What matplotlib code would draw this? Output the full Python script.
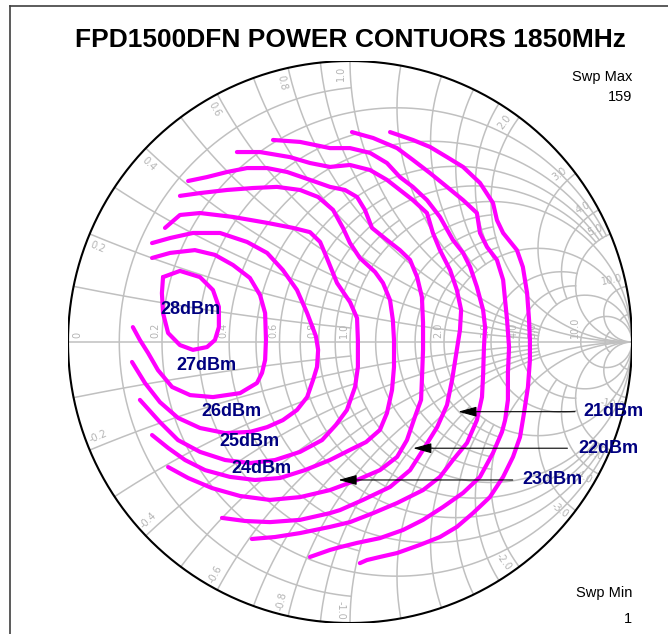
import numpy as np
import matplotlib.pyplot as plt

W, H = 668, 634
INF = 1e6

title = "FPD1500DFN POWER CONTUORS 1850MHz"

# Smith chart grid: resistance circles and how far (|x|) they run
r_grid = [0.1, 0.2, 0.3, 0.4, 0.5, 0.6, 0.7, 0.8, 0.9, 1.0,
          1.2, 1.4, 1.6, 1.8, 2.0, 3.0, 4.0, 5.0, 10.0, 20.0, 50.0]
r_reach = [1, 5, 1, 5, 1, 5, 1, 5, 1, INF,
           2, 2, 2, 2, INF, 5, 5, INF, INF, 10, 10]
# reactance arcs and how far (r) they run
x_grid = r_grid
x_reach = [1, 5, 1, 5, 1, 5, 1, 5, 1, INF,
           2, 2, 2, 2, INF, 5, 5, INF, INF, 10, 10]

r_labels = [0, 0.2, 0.4, 0.6, 0.8, 1.0, 2.0, 3.0, 4.0, 5.0, 10.0]
x_labels = [0.2, 0.4, 0.6, 0.8, 1.0, 2.0, 3.0, 4.0, 5.0, 10.0]

# power contours as reflection coefficient (re, im)
c28_re = [-0.663, -0.603, -0.532, -0.486, -0.465, -0.465, -0.479, -0.507,
          -0.557, -0.603, -0.645, -0.663, -0.667, -0.663]
c28_im = [0.231, 0.253, 0.231, 0.185, 0.125, 0.053, 0.007, -0.018,
          -0.028, -0.011, 0.032, 0.103, 0.174, 0.231]

c1_re = [-0.702, -0.638, -0.550, -0.479, -0.415, -0.355, -0.319, -0.301, -0.298,
         -0.301, -0.312, -0.330, -0.390, -0.486, -0.567, -0.631, -0.681, -0.716,
         -0.745, -0.770]
c1_im = [0.299, 0.317, 0.327, 0.310, 0.274, 0.228, 0.167, 0.103, 0.007,
         -0.064, -0.110, -0.146, -0.182, -0.196, -0.189, -0.160, -0.100, -0.039,
         0.007, 0.053]

c2_re = [-0.702, -0.638, -0.557, -0.461, -0.365, -0.294, -0.238, -0.188, -0.152,
         -0.121, -0.113, -0.117, -0.131, -0.152, -0.188, -0.238, -0.294, -0.355,
         -0.443, -0.532, -0.610, -0.674, -0.727, -0.773]
c2_im = [0.352, 0.370, 0.388, 0.388, 0.356, 0.317, 0.256, 0.185, 0.103,
         0.021, -0.028, -0.089, -0.135, -0.196, -0.242, -0.278, -0.303, -0.320,
         -0.324, -0.306, -0.270, -0.214, -0.146, -0.071]

c3_re = [-0.656, -0.603, -0.532, -0.415, -0.294, -0.202, -0.142, -0.106, -0.082,
         -0.046, 0.000, 0.025, 0.028, 0.028, 0.018, -0.011, -0.050, -0.099,
         -0.177, -0.266, -0.355, -0.443, -0.532, -0.610, -0.674, -0.745]
c3_im = [0.406, 0.452, 0.459, 0.445, 0.424, 0.406, 0.391, 0.356, 0.299,
         0.210, 0.142, 0.085, 0.007, -0.089, -0.160, -0.242, -0.295, -0.349,
         -0.391, -0.420, -0.431, -0.420, -0.391, -0.349, -0.285, -0.206]

c4_re = [-0.603, -0.532, -0.436, -0.344, -0.259, -0.177, -0.113, -0.060, -0.025,
         0.000, 0.035, 0.089, 0.117, 0.142, 0.152, 0.156, 0.156, 0.149, 0.131,
         0.106, 0.057, 0.000, -0.071, -0.160, -0.248, -0.337, -0.426, -0.514,
         -0.585, -0.645, -0.702]
c4_im = [0.520, 0.530, 0.541, 0.548, 0.552, 0.541, 0.516, 0.470, 0.406,
         0.352, 0.299, 0.249, 0.210, 0.149, 0.078, 0.007, -0.089, -0.171, -0.253,
         -0.313, -0.356, -0.384, -0.420, -0.456, -0.484, -0.491, -0.480, -0.456,
         -0.420, -0.377, -0.331]

c5_re = [-0.574, -0.507, -0.436, -0.365, -0.294, -0.223, -0.142, -0.071, -0.018,
         0.025, 0.053, 0.078, 0.131, 0.177, 0.213, 0.238, 0.255, 0.259, 0.259,
         0.255, 0.252, 0.230, 0.202, 0.167, 0.106, 0.025, -0.071, -0.177, -0.284,
         -0.390, -0.489, -0.574, -0.645]
c5_im = [0.573, 0.587, 0.605, 0.619, 0.619, 0.605, 0.577, 0.552, 0.541,
         0.516, 0.470, 0.406, 0.363, 0.327, 0.292, 0.231, 0.160, 0.068, -0.028,
         -0.135, -0.206, -0.267, -0.349, -0.409, -0.456, -0.491, -0.527, -0.552,
         -0.562, -0.548, -0.520, -0.484, -0.445]

c6_re = [-0.401, -0.319, -0.213, -0.142, -0.071, 0.000, 0.071, 0.131, 0.177,
         0.223, 0.273, 0.294, 0.319, 0.355, 0.379, 0.394, 0.390, 0.376, 0.362,
         0.344, 0.309, 0.259, 0.213, 0.142, 0.046, -0.035, -0.071, -0.177, -0.284,
         -0.372, -0.454]
c6_im = [0.676, 0.676, 0.658, 0.637, 0.623, 0.630, 0.612, 0.577, 0.541,
         0.505, 0.459, 0.388, 0.327, 0.256, 0.185, 0.114, 0.043, -0.046, -0.135,
         -0.224, -0.303, -0.384, -0.456, -0.516, -0.562, -0.598, -0.609, -0.633,
         -0.641, -0.637, -0.626]

c7_re = [-0.273, -0.177, -0.071, 0.000, 0.071, 0.131, 0.177, 0.223, 0.273,
         0.319, 0.365, 0.401, 0.426, 0.450, 0.472, 0.479, 0.475, 0.472, 0.468,
         0.450, 0.415, 0.365, 0.319, 0.259, 0.167, 0.082, 0.000, -0.071, -0.177,
         -0.266, -0.348]
c7_im = [0.719, 0.712, 0.690, 0.690, 0.673, 0.637, 0.587, 0.552, 0.505,
         0.445, 0.363, 0.317, 0.267, 0.196, 0.114, 0.053, -0.018, -0.117, -0.196,
         -0.278, -0.359, -0.420, -0.480, -0.527, -0.573, -0.609, -0.641, -0.658,
         -0.680, -0.694, -0.701]

c8_re = [0.007, 0.082, 0.167, 0.223, 0.284, 0.344, 0.401, 0.450, 0.461,
         0.486, 0.521, 0.543, 0.550, 0.557, 0.564, 0.560, 0.560, 0.550, 0.539,
         0.507, 0.461, 0.401, 0.330, 0.259, 0.188, 0.106, 0.025, -0.035, -0.071,
         -0.142]
c8_im = [0.747, 0.726, 0.690, 0.648, 0.601, 0.552, 0.505, 0.459, 0.388,
         0.338, 0.292, 0.221, 0.149, 0.078, -0.018, -0.110, -0.206, -0.278, -0.320,
         -0.395, -0.480, -0.537, -0.587, -0.633, -0.669, -0.698, -0.715, -0.730,
         -0.740, -0.765]

c9_re = [0.142, 0.223, 0.284, 0.344, 0.401, 0.461, 0.507, 0.521, 0.543,
         0.592, 0.613, 0.628, 0.635, 0.638, 0.638, 0.631, 0.617, 0.603, 0.578,
         0.543, 0.496, 0.436, 0.379, 0.319, 0.248, 0.167, 0.106, 0.060, 0.035]
c9_im = [0.747, 0.719, 0.694, 0.658, 0.623, 0.566, 0.495, 0.434, 0.388,
         0.327, 0.267, 0.174, 0.078, 0.007, -0.064, -0.160, -0.253, -0.338, -0.409,
         -0.480, -0.552, -0.609, -0.658, -0.694, -0.722, -0.751, -0.765, -0.776,
         -0.787]

contours = [(c28_re, c28_im), (c1_re, c1_im), (c2_re, c2_im), (c3_re, c3_im),
            (c4_re, c4_im), (c5_re, c5_im), (c6_re, c6_im), (c7_re, c7_im),
            (c8_re, c8_im), (c9_re, c9_im)]

lab_text = ["28dBm", "27dBm", "26dBm", "25dBm", "24dBm"]
lab_re = [-0.567, -0.508, -0.420, -0.355, -0.313]
lab_im = [0.114, -0.082, -0.248, -0.355, -0.449]

arr_text = ["21dBm", "22dBm", "23dBm"]
arr_text_re = [0.934, 0.916, 0.719]
arr_text_im = [-0.248, -0.378, -0.491]
arr_tail_re = [0.798, 0.771, 0.577]
arr_head_re = [0.384, 0.224, -0.041]


def gamma(r, x):
    z = r + 1j * x
    return (z - 1) / (z + 1)


fig = plt.figure(figsize=(W / 100, H / 100), dpi=100)
ax = fig.add_axes([68 / W, 1 - 623 / H, 564 / W, 562 / H])
ax.set_xlim(-1, 1)
ax.set_ylim(-1, 1)
ax.axis('off')

grid_c = '#c0c0c0'
lbl_c = '#b4b4b4'

# resistance circles
for r, xm in zip(r_grid, r_reach):
    ph = np.arctan(xm / (r + 1))
    t = np.linspace(-ph, ph, 600)
    g = gamma(r, (r + 1) * np.tan(t))
    ax.plot(g.real, g.imag, color=grid_c, lw=1.1, zorder=1)

# reactance arcs
for x, rm in zip(x_grid, x_reach):
    t = np.linspace(np.arctan(x / (rm + 1)), np.arctan(x), 600)
    rr = x / np.tan(t) - 1
    for s in (1, -1):
        g = gamma(rr, s * x)
        ax.plot(g.real, g.imag, color=grid_c, lw=1.1, zorder=1)

ax.plot([-1, 1], [0, 0], color=grid_c, lw=1.1, zorder=1)
t = np.linspace(0, 2 * np.pi, 800)
ax.plot(np.cos(t), np.sin(t), color='black', lw=1.5, zorder=3)

# labels on real axis
for r in r_labels:
    g = gamma(r, 0).real
    if r == 0:
        ax.text(g + 0.035, 0.015, "0", rotation=90, fontsize=7, color=lbl_c,
                ha='center', va='bottom')
    else:
        ax.text(g - 0.004, 0.015, f"{r:.1f}", rotation=90, fontsize=7,
                color=lbl_c, ha='right', va='bottom')

# labels on rim
for x in x_labels:
    th = np.pi - 2 * np.arctan(x)
    d = np.radians(2.0)
    rad = 0.955
    a = th + d
    rot = np.degrees(th)
    if rot > 90:
        rot -= 180
    ax.text(rad * np.cos(a), rad * np.sin(a), f"{x:.1f}", rotation=rot,
            fontsize=7, color=lbl_c, ha='center', va='center',
            rotation_mode='anchor')
    ax.text(rad * np.cos(-a), rad * np.sin(-a), f"-{x:.1f}", rotation=-rot,
            fontsize=7, color=lbl_c, ha='center', va='center',
            rotation_mode='anchor')

# contours
for cre, cim in contours:
    ax.plot(cre, cim, color='#ff00ff', lw=3, zorder=4,
            solid_capstyle='round', solid_joinstyle='round')

for s, xr, yi in zip(lab_text, lab_re, lab_im):
    ax.text(xr, yi, s, color='#000080', fontsize=13, fontweight='bold',
            family='Liberation Sans', ha='center', va='center', zorder=6)

for s, xt, yi, xa, xh in zip(arr_text, arr_text_re, arr_text_im,
                             arr_tail_re, arr_head_re):
    ax.annotate('', xy=(xh, yi), xytext=(xa, yi),
                arrowprops=dict(arrowstyle='-|>,head_length=0.8,head_width=0.22',
                                color='black', lw=0.8, mutation_scale=14,
                                shrinkA=0, shrinkB=0), zorder=5)
    ax.text(xt, yi, s, color='#000080', fontsize=13, fontweight='bold',
            family='Liberation Sans', ha='center', va='center', zorder=6,
            clip_on=False)

# frame and texts
fig.add_artist(plt.Line2D([10 / W, 10 / W], [0, 1 - 6 / H], color='#404040', lw=1.2))
fig.add_artist(plt.Line2D([10 / W, 1], [1 - 6 / H, 1 - 6 / H], color='#404040', lw=1.2))
fig.text(350 / W, 1 - 40 / H, title, fontsize=19, fontweight='bold',
         family='Liberation Sans', ha='center', va='center')
for s, y in zip(["Swp Max", "159", "Swp Min", "1"], [77, 97, 593, 619]):
    fig.text(632 / W, 1 - y / H, s, fontsize=10.5, family='Liberation Sans',
             ha='right', va='center')

fig.savefig('out.png', dpi=100)
